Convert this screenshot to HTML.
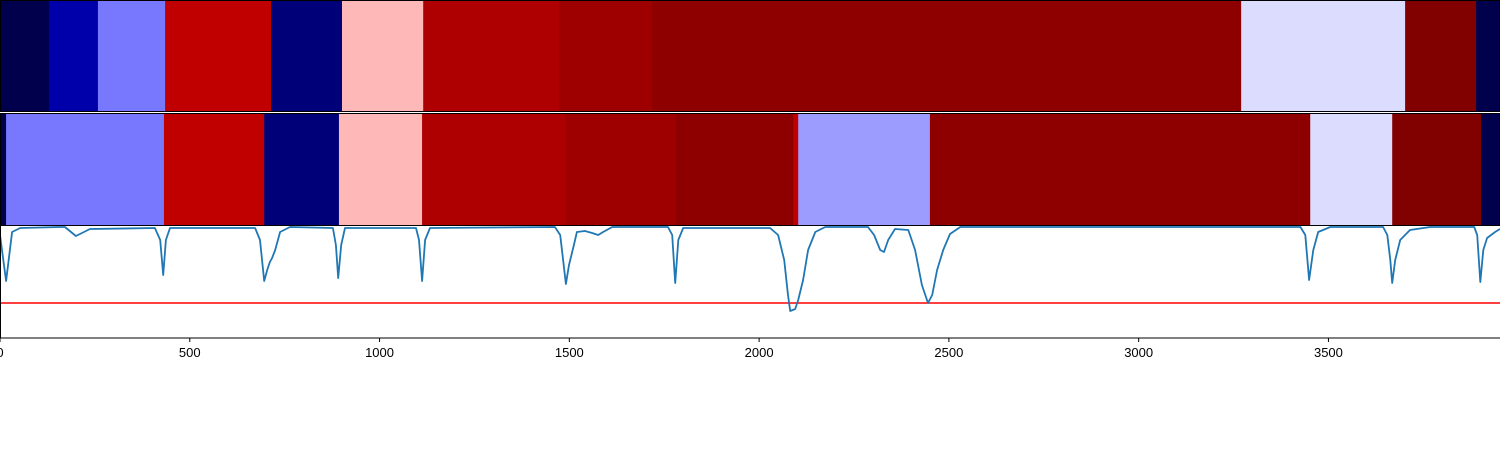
<!DOCTYPE html>
<html><head><meta charset="utf-8"><style>
html,body{margin:0;padding:0;background:#fff;width:1500px;height:450px;overflow:hidden}
svg{display:block;font-family:"Liberation Sans","DejaVu Sans",sans-serif}
</style></head><body>
<svg id="chart" width="1500" height="450" viewBox="0 0 1500 450" xmlns="http://www.w3.org/2000/svg"></svg>
<script>
// ---- data ----
const row1Edges = [0,129,258,435,714,901,1115,1473,1718,3270,3702,3889,3952];
const row1Values = [0.0,0.131,0.368,0.873,0.061,0.57,0.909,0.94,0.971,0.466,0.998,0.0];
const row2Edges = [0,16,432,696,893,1112,1491,1781,2090,2103,2450,3452,3668,3902,3952];
const row2Values = [0.0,0.368,0.873,0.061,0.57,0.909,0.94,0.971,0.873,0.403,0.971,0.466,0.998,0.0];
const lineX = [0,16,32,53,158,171,200,237,408,422,430,437,448,672,685,696,704,711,717,725,738,764,877,885,891,899,909,1096,1104,1112,1120,1133,1462,1476,1491,1499,1512,1520,1541,1560,1576,1589,1613,1760,1771,1779,1787,1800,2029,2050,2066,2076,2082,2095,2103,2116,2129,2148,2174,2287,2303,2319,2329,2340,2358,2393,2411,2429,2445,2456,2469,2485,2503,2530,3426,3439,3449,3460,3473,3505,3644,3655,3663,3668,3676,3689,3715,3768,3884,3892,3900,3908,3918,3939,3952];
const lineY = [1.03,0.57,1.06,1.10,1.11,1.11,1.02,1.09,1.10,0.98,0.63,0.98,1.10,1.10,0.98,0.57,0.68,0.76,0.80,0.88,1.06,1.11,1.10,0.93,0.60,0.93,1.10,1.10,0.98,0.57,0.98,1.10,1.11,1.03,0.54,0.73,0.93,1.06,1.07,1.05,1.03,1.06,1.11,1.11,1.03,0.55,0.98,1.10,1.10,1.03,0.78,0.43,0.27,0.29,0.38,0.58,0.88,1.06,1.11,1.11,1.03,0.88,0.86,0.98,1.09,1.08,0.88,0.53,0.35,0.43,0.68,0.88,1.04,1.11,1.11,1.03,0.58,0.88,1.06,1.11,1.11,1.03,0.78,0.55,0.78,0.98,1.08,1.11,1.11,1.03,0.56,0.88,1.00,1.06,1.09];
const thresholdValue = [0.35];
const xTicks = [0,500,1000,1500,2000,2500,3000,3500];

// ---- scales ----
const X0=0, X1=1500, XMAX=3952;
const sx = v => X0 + v/XMAX*(X1-X0);
const LT=225, LB=338;
const sy = v => LB - v*100;
function seismic(t){
  const stops=[[0,0,0,0.3],[0.25,0,0,1],[0.5,1,1,1],[0.75,1,0,0],[1,0.5,0,0]];
  t=Math.max(0,Math.min(1,t));
  for(let i=0;i<stops.length-1;i++){
    const a=stops[i],b=stops[i+1];
    if(t<=b[0]){const f=(t-a[0])/(b[0]-a[0]);
      const c=[1,2,3].map(k=>Math.round((a[k]+(b[k]-a[k])*f)*255));
      return `rgb(${c[0]},${c[1]},${c[2]})`;}
  }
  return 'rgb(128,0,0)';
}
const NS="http://www.w3.org/2000/svg";
const svg=document.getElementById('chart');
function mk(tag,attrs,parent){const e=document.createElementNS(NS,tag);for(const k in attrs)e.setAttribute(k,attrs[k]);(parent||svg).appendChild(e);return e;}

function drawRow(edges,vals,y0,y1,name){
  const g=mk('g',{});
  
  
  for(let i=0;i<vals.length;i++){
    const r=mk('rect',{x:sx(edges[i]),y:y0,width:sx(edges[i+1])-sx(edges[i])+0.5,height:y1-y0,fill:seismic(vals[i])},g);
    
    
  }
  const f=mk('rect',{x:0.5,y:y0+0.5,width:1499,height:y1-y0-1,fill:'none',stroke:'#000','stroke-width':1},g);
  
  
}
drawRow(row1Edges,row1Values,0,112,'heatmap-row-1');
drawRow(row2Edges,row2Values,113,226,'heatmap-row-2');

// line panel
const lp=mk('g',{});


const th=mk('line',{x1:0,x2:1500,y1:sy(thresholdValue[0]),y2:sy(thresholdValue[0]),stroke:'#ff0000','stroke-width':1.5},lp);


let d='';
for(let i=0;i<lineX.length;i++) d+=(i?'L':'M')+sx(lineX[i]).toFixed(1)+','+sy(lineY[i]).toFixed(1);
const pl=mk('path',{d:d,fill:'none',stroke:'#1f77b4','stroke-width':1.8,'stroke-linejoin':'round'},lp);


const sp=mk('path',{d:`M0.5,${LT} L0.5,${LB} L1500,${LB}`,fill:'none',stroke:'#000','stroke-width':1},lp);


const topLine=mk('line',{x1:0,x2:1500,y1:LT+0.5,y2:LT+0.5,stroke:'#000','stroke-width':1},lp);



const ax=mk('g',{});


xTicks.forEach(v=>{
  const x=sx(v);
  const t=mk('line',{x1:x,x2:x,y1:LB,y2:LB+4,stroke:'#000','stroke-width':1},ax);
  
  
  const l=mk('text',{x:x,y:LB+19,'text-anchor':'middle','font-size':13,fill:'#000'},ax);
  l.textContent=v;
  
  
});
</script>
</body></html>
